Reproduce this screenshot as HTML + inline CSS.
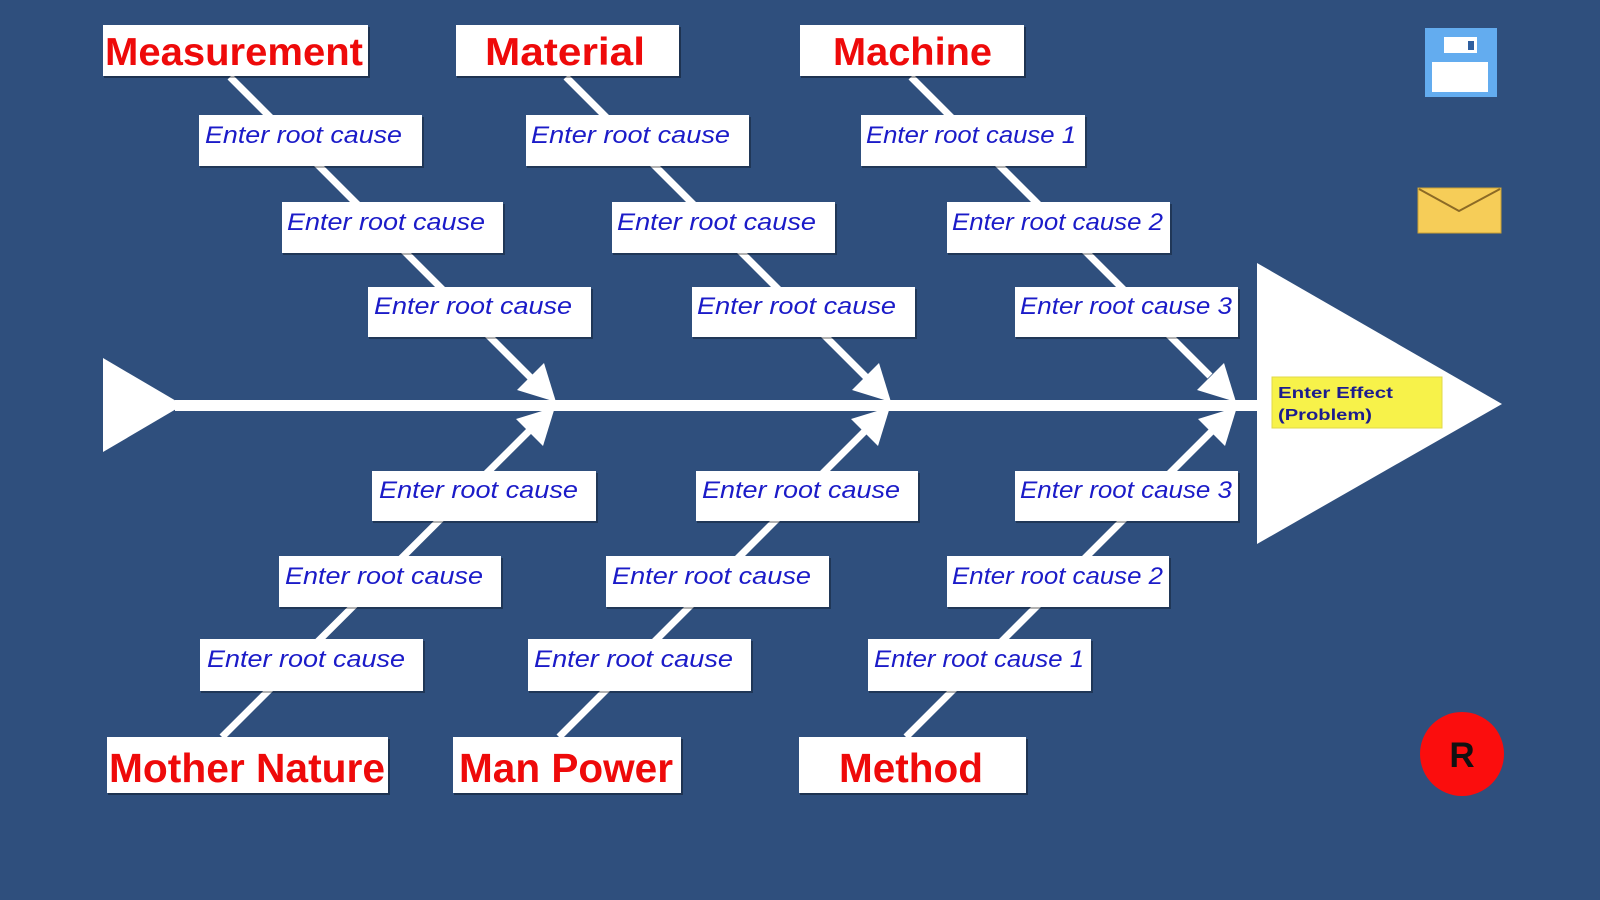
<!DOCTYPE html>
<html>
<head>
<meta charset="utf-8">
<style>
  html,body{margin:0;padding:0;background:#2f4f7d;}
  svg{display:block;}
</style>
</head>
<body>
<svg width="1600" height="900" viewBox="0 0 1600 900" xmlns="http://www.w3.org/2000/svg">
  <rect x="0" y="0" width="1600" height="900" fill="#2f4f7d"/>

  <!-- spine -->
  <rect x="175" y="400" width="1085" height="11" fill="#ffffff"/>
  <polygon points="103,358 103,452 183,405" fill="#ffffff"/>
  <!-- head triangle -->
  <polygon points="1257,263 1257,544 1502,404" fill="#ffffff"/>

  <!-- bones top -->
  <g stroke="#ffffff" stroke-width="7" stroke-linecap="butt">
    <line x1="230" y1="77" x2="532" y2="379"/>
    <line x1="566" y1="77" x2="866" y2="377"/>
    <line x1="911" y1="77" x2="1210" y2="376"/>
    <!-- bones bottom -->
    <line x1="222" y1="737" x2="530" y2="430"/>
    <line x1="559" y1="737" x2="865" y2="431"/>
    <line x1="906" y1="737" x2="1212" y2="431"/>
  </g>
  <g fill="#ffffff">
    <polygon points="556,402 517,390 544,363"/>
    <polygon points="891,402 852,390 879,363"/>
    <polygon points="1236,402 1197,390 1224,363"/>
    <polygon points="555,407 543,446 516,419"/>
    <polygon points="890,407 878,446 851,419"/>
    <polygon points="1237,407 1225,446 1198,419"/>
  </g>

  <!-- category boxes -->
  <g fill="rgba(0,0,0,0.35)">
    <rect x="104" y="27" width="266" height="51"/>
    <rect x="457" y="27" width="224" height="51"/>
    <rect x="801" y="27" width="225" height="51"/>
    <rect x="108" y="739" width="282" height="56"/>
    <rect x="454" y="739" width="229" height="56"/>
    <rect x="800" y="739" width="228" height="56"/>
  </g>
  <g fill="#ffffff">
    <rect x="103" y="25" width="265" height="51"/>
    <rect x="456" y="25" width="223" height="51"/>
    <rect x="800" y="25" width="224" height="51"/>
    <rect x="107" y="737" width="281" height="56"/>
    <rect x="453" y="737" width="228" height="56"/>
    <rect x="799" y="737" width="227" height="56"/>
  </g>
  <g font-family="'Liberation Sans', Arial, sans-serif" font-weight="bold" font-size="39" fill="#ee0a0a">
    <text x="105" y="65" textLength="258" lengthAdjust="spacingAndGlyphs">Measurement</text>
    <text x="485" y="65" textLength="160" lengthAdjust="spacingAndGlyphs">Material</text>
    <text x="833" y="65" textLength="159" lengthAdjust="spacingAndGlyphs">Machine</text>
    <text x="109" y="782" font-size="41" textLength="276" lengthAdjust="spacingAndGlyphs">Mother Nature</text>
    <text x="459" y="782" font-size="41" textLength="214" lengthAdjust="spacingAndGlyphs">Man Power</text>
    <text x="839" y="782" font-size="41" textLength="144" lengthAdjust="spacingAndGlyphs">Method</text>
  </g>

  <!-- root cause boxes -->
  <g fill="rgba(0,0,0,0.3)">
    <rect x="200" y="117" width="224" height="51"/>
    <rect x="527" y="117" width="224" height="51"/>
    <rect x="862" y="117" width="225" height="51"/>
    <rect x="283" y="204" width="222" height="51"/>
    <rect x="613" y="204" width="224" height="51"/>
    <rect x="948" y="204" width="224" height="51"/>
    <rect x="369" y="289" width="224" height="50"/>
    <rect x="693" y="289" width="224" height="50"/>
    <rect x="1016" y="289" width="224" height="50"/>
    <rect x="373" y="473" width="225" height="50"/>
    <rect x="697" y="473" width="223" height="50"/>
    <rect x="1016" y="473" width="224" height="50"/>
    <rect x="280" y="558" width="223" height="51"/>
    <rect x="607" y="558" width="224" height="51"/>
    <rect x="948" y="558" width="223" height="51"/>
    <rect x="201" y="641" width="224" height="52"/>
    <rect x="529" y="641" width="224" height="52"/>
    <rect x="869" y="641" width="224" height="52"/>
  </g>
  <g fill="#ffffff">
    <rect x="199" y="115" width="223" height="51"/>
    <rect x="526" y="115" width="223" height="51"/>
    <rect x="861" y="115" width="224" height="51"/>
    <rect x="282" y="202" width="221" height="51"/>
    <rect x="612" y="202" width="223" height="51"/>
    <rect x="947" y="202" width="223" height="51"/>
    <rect x="368" y="287" width="223" height="50"/>
    <rect x="692" y="287" width="223" height="50"/>
    <rect x="1015" y="287" width="223" height="50"/>
    <rect x="372" y="471" width="224" height="50"/>
    <rect x="696" y="471" width="222" height="50"/>
    <rect x="1015" y="471" width="223" height="50"/>
    <rect x="279" y="556" width="222" height="51"/>
    <rect x="606" y="556" width="223" height="51"/>
    <rect x="947" y="556" width="222" height="51"/>
    <rect x="200" y="639" width="223" height="52"/>
    <rect x="528" y="639" width="223" height="52"/>
    <rect x="868" y="639" width="223" height="52"/>
  </g>
  <g font-family="'Liberation Sans', Arial, sans-serif" font-style="italic" font-size="24" fill="#1b1bc8">
    <text x="205" y="143" textLength="197" lengthAdjust="spacingAndGlyphs">Enter root cause</text>
    <text x="531" y="143" textLength="199" lengthAdjust="spacingAndGlyphs">Enter root cause</text>
    <text x="866" y="143" textLength="210" lengthAdjust="spacingAndGlyphs">Enter root cause 1</text>
    <text x="287" y="230" textLength="198" lengthAdjust="spacingAndGlyphs">Enter root cause</text>
    <text x="617" y="230" textLength="199" lengthAdjust="spacingAndGlyphs">Enter root cause</text>
    <text x="952" y="230" textLength="211" lengthAdjust="spacingAndGlyphs">Enter root cause 2</text>
    <text x="374" y="314" textLength="198" lengthAdjust="spacingAndGlyphs">Enter root cause</text>
    <text x="697" y="314" textLength="199" lengthAdjust="spacingAndGlyphs">Enter root cause</text>
    <text x="1020" y="314" textLength="212" lengthAdjust="spacingAndGlyphs">Enter root cause 3</text>
    <text x="379" y="498" textLength="199" lengthAdjust="spacingAndGlyphs">Enter root cause</text>
    <text x="702" y="498" textLength="198" lengthAdjust="spacingAndGlyphs">Enter root cause</text>
    <text x="1020" y="498" textLength="212" lengthAdjust="spacingAndGlyphs">Enter root cause 3</text>
    <text x="285" y="584" textLength="198" lengthAdjust="spacingAndGlyphs">Enter root cause</text>
    <text x="612" y="584" textLength="199" lengthAdjust="spacingAndGlyphs">Enter root cause</text>
    <text x="952" y="584" textLength="211" lengthAdjust="spacingAndGlyphs">Enter root cause 2</text>
    <text x="207" y="667" textLength="198" lengthAdjust="spacingAndGlyphs">Enter root cause</text>
    <text x="534" y="667" textLength="199" lengthAdjust="spacingAndGlyphs">Enter root cause</text>
    <text x="874" y="667" textLength="210" lengthAdjust="spacingAndGlyphs">Enter root cause 1</text>
  </g>

  <!-- effect box -->
  <rect x="1272" y="377" width="170" height="51" fill="#f7f24a" stroke="#e0d84a" stroke-width="1"/>
  <g font-family="'Liberation Sans', Arial, sans-serif" font-weight="bold" font-size="16" fill="#1c1c8e">
    <text x="1278" y="398" textLength="115" lengthAdjust="spacingAndGlyphs">Enter Effect</text>
    <text x="1278" y="420" textLength="94" lengthAdjust="spacingAndGlyphs">(Problem)</text>
  </g>

  <!-- floppy icon -->
  <rect x="1425" y="28" width="72" height="69" fill="#63acef"/>
  <rect x="1444" y="37" width="33" height="16" fill="#ffffff"/>
  <rect x="1468" y="41" width="6" height="9" fill="#2f5f9f"/>
  <rect x="1432" y="62" width="56" height="30" fill="#ffffff"/>

  <!-- envelope icon -->
  <rect x="1418" y="188" width="83" height="45" fill="#f6cd58" stroke="#c9a035" stroke-width="1"/>
  <polyline points="1419,189 1459,211 1500,189" fill="none" stroke="#8c6a25" stroke-width="2"/>

  <!-- R button -->
  <circle cx="1462" cy="754" r="42" fill="#fb0d0d"/>
  <text x="1462" y="767" text-anchor="middle" font-family="'Liberation Sans', Arial, sans-serif" font-weight="bold" font-size="35" fill="#111111">R</text>
</svg>
</body>
</html>
